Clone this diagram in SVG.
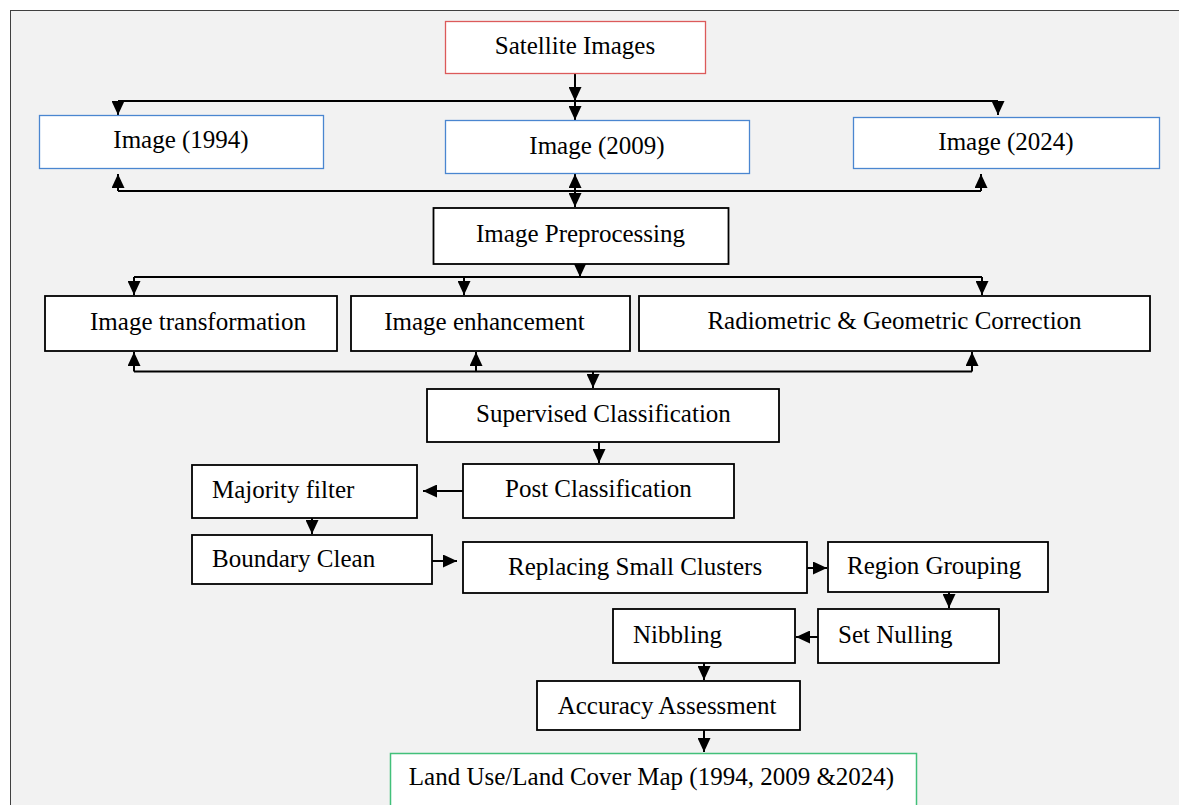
<svg xmlns="http://www.w3.org/2000/svg" width="1179" height="805" viewBox="0 0 1179 805">
<style>
.bx{fill:#ffffff;stroke:#000000;stroke-width:1.8}
.red{fill:#ffffff;stroke:#dc5a5a;stroke-width:1.3}
.blue{fill:#ffffff;stroke:#4a86d0;stroke-width:1.3}
.green{fill:#ffffff;stroke:#42c07a;stroke-width:1.5}
.t{font-family:"Liberation Serif","Times New Roman",serif;font-size:25px;fill:#000000}
.m{text-anchor:middle}
.ln{fill:none;stroke:#000000;stroke-width:2}
.ar{fill:none;stroke:#000000;stroke-width:2;marker-end:url(#ah)}
</style>
<defs>
<marker id="ah" markerUnits="userSpaceOnUse" viewBox="0 0 14 13" refX="14" refY="6.5" markerWidth="14" markerHeight="13" orient="auto">
<path d="M0,0 L14,6.5 L0,13 z" fill="#000000"/>
</marker>
</defs>
<rect x="0" y="0" width="1179" height="805" fill="#ffffff"/>
<rect x="10.5" y="10.5" width="1180" height="800" fill="#f2f2f2" stroke="#404040" stroke-width="1"/>

<g id="connectors">
<path class="ar" d="M575,73 V101"/>
<path class="ln" d="M118,101 H998"/>
<path class="ar" d="M118,101 V115"/>
<path class="ar" d="M575,101 V120"/>
<path class="ar" d="M998,101 V115"/>
<path class="ln" d="M118,191 H981"/>
<path class="ar" d="M118,191 V174"/>
<path class="ar" d="M575,191 V174"/>
<path class="ar" d="M981,191 V174"/>
<path class="ar" d="M575,191 V207"/>
<path class="ar" d="M580,264 V277"/>
<path class="ln" d="M134,277 H982"/>
<path class="ar" d="M134,277 V295"/>
<path class="ar" d="M464,277 V295"/>
<path class="ar" d="M982,277 V295"/>
<path class="ln" d="M134,371.5 H972"/>
<path class="ar" d="M134,371.5 V352"/>
<path class="ar" d="M476,371.5 V352"/>
<path class="ar" d="M972,371.5 V352"/>
<path class="ar" d="M593,371.5 V388"/>
<path class="ar" d="M599,442 V463"/>
<path class="ar" d="M463,491 H423"/>
<path class="ar" d="M312,518 V534"/>
<path class="ar" d="M432,561 H457"/>
<path class="ar" d="M807,568 H827"/>
<path class="ar" d="M949,592 V608"/>
<path class="ar" d="M818,637 H796"/>
<path class="ar" d="M704,663 V680"/>
<path class="ar" d="M704,730 V752"/>
</g>

<g id="satellite"><rect class="red" x="445.5" y="21.5" width="260" height="52"/><text class="t m" x="575" y="54">Satellite Images</text></g>
<g id="img1994"><rect class="blue" x="39.5" y="115.5" width="284" height="53"/><text class="t m" x="181" y="148">Image (1994)</text></g>
<g id="img2009"><rect class="blue" x="445.5" y="120.5" width="304" height="53"/><text class="t m" x="597" y="154">Image (2009)</text></g>
<g id="img2024"><rect class="blue" x="853.5" y="117.5" width="306" height="51"/><text class="t m" x="1006" y="150">Image (2024)</text></g>
<g id="preproc"><rect class="bx" x="433.5" y="208" width="295" height="56"/><text class="t m" x="580.5" y="242">Image Preprocessing</text></g>
<g id="transform"><rect class="bx" x="45" y="296" width="292" height="55"/><text class="t m" x="198" y="330">Image transformation</text></g>
<g id="enhance"><rect class="bx" x="351" y="296" width="279" height="55"/><text class="t m" x="484.5" y="330">Image enhancement</text></g>
<g id="radiometric"><rect class="bx" x="639" y="296" width="511" height="55"/><text class="t m" x="894.5" y="329">Radiometric &amp; Geometric Correction</text></g>
<g id="supervised"><rect class="bx" x="427" y="389" width="352" height="53"/><text class="t" x="476" y="422">Supervised Classification</text></g>
<g id="post"><rect class="bx" x="463" y="464" width="271" height="54"/><text class="t" x="505" y="497">Post Classification</text></g>
<g id="majority"><rect class="bx" x="192" y="465" width="225" height="53"/><text class="t" x="212" y="498">Majority filter</text></g>
<g id="boundary"><rect class="bx" x="192" y="535" width="240" height="49"/><text class="t" x="212" y="567">Boundary Clean</text></g>
<g id="replacing"><rect class="bx" x="463" y="542" width="344" height="51"/><text class="t" x="508" y="575">Replacing Small Clusters</text></g>
<g id="region"><rect class="bx" x="828" y="542" width="220" height="50"/><text class="t" x="847" y="574">Region Grouping</text></g>
<g id="setnull"><rect class="bx" x="818" y="609" width="181" height="54"/><text class="t" x="838" y="643">Set Nulling</text></g>
<g id="nibbling"><rect class="bx" x="613" y="609" width="182" height="54"/><text class="t" x="633" y="643">Nibbling</text></g>
<g id="accuracy"><rect class="bx" x="537" y="681" width="263" height="49"/><text class="t m" x="667" y="714">Accuracy Assessment</text></g>
<g id="lulc"><rect class="green" x="390.5" y="753.5" width="526" height="60"/><text class="t m" x="651.5" y="785">Land Use/Land Cover Map (1994, 2009 &amp;2024)</text></g>
</svg>
